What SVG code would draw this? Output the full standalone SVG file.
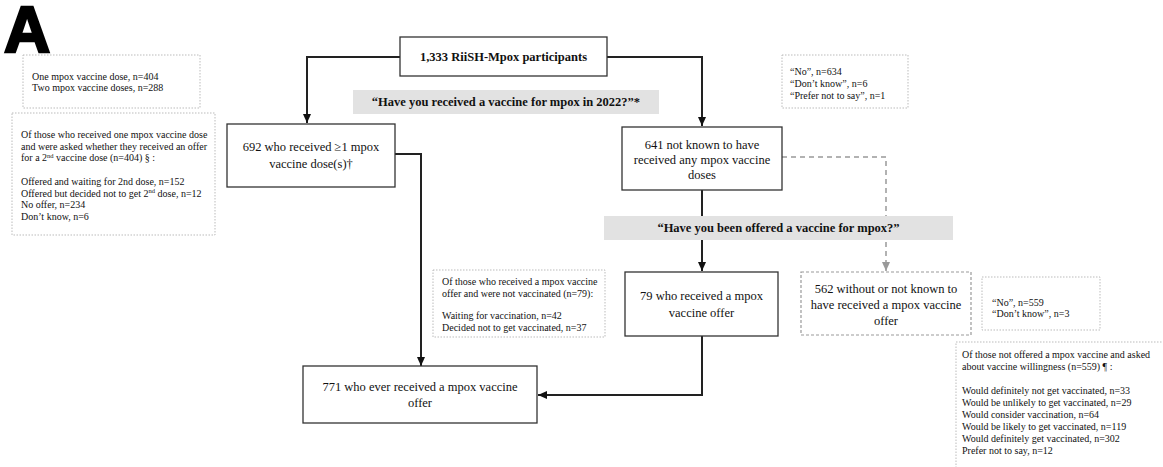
<svg xmlns="http://www.w3.org/2000/svg" width="1163" height="467" viewBox="0 0 1163 467">
<style>
.box{fill:#fff;stroke:#333;stroke-width:1.3}
.note{fill:#fff;stroke:#bbb;stroke-width:1;stroke-dasharray:1.5,1.5}
.grey{fill:#fff;stroke:#999;stroke-width:1.2;stroke-dasharray:3,2}
.banner{fill:#e2e2e2;stroke:none}
.t{font-family:"Liberation Serif","Times New Roman",serif;font-size:12.5px;fill:#111;text-anchor:middle}
.b{font-family:"Liberation Serif","Times New Roman",serif;font-size:12.5px;font-weight:bold;fill:#111;text-anchor:middle}
.n{font-family:"Liberation Serif","Times New Roman",serif;font-size:10px;fill:#111}
.c{fill:none;stroke:#222;stroke-width:2}
.cd{fill:none;stroke:#999;stroke-width:1.5;stroke-dasharray:5,4}
</style>
<defs>
<marker id="ah" markerUnits="userSpaceOnUse" markerWidth="9" markerHeight="8" refX="9" refY="4" orient="auto"><path d="M0,0 L9,4 L0,8 z" fill="#111"/></marker>
<marker id="ahg" markerUnits="userSpaceOnUse" markerWidth="9" markerHeight="8" refX="9" refY="4" orient="auto"><path d="M0,0 L9,4 L0,8 z" fill="#999"/></marker>
</defs>
<rect width="1163" height="467" fill="#fff"/>
<text x="4" y="52" font-family="Liberation Sans, Arial, sans-serif" font-size="64" font-weight="bold" stroke="#000" stroke-width="2.5" fill="#000">A</text>

<g id="connectors">
<path class="c" d="M400,57 H307 V123" marker-end="url(#ah)"/>
<path class="c" d="M607,57 H702 V126" marker-end="url(#ah)"/>
<path class="c" d="M395,154 H421 V366" marker-end="url(#ah)"/>
<path class="c" d="M702,190 V271" marker-end="url(#ah)"/>
<path class="cd" d="M782,157 H886 V271" marker-end="url(#ahg)"/>
<path class="c" d="M702,336 V395 H538" marker-end="url(#ah)"/>
</g>

<g id="note-doses">
<rect class="note" x="23" y="55" width="177" height="53"/>
<text class="n" x="32" y="80">One mpox vaccine dose,  n=404</text>
<text class="n" x="32" y="91">Two mpox vaccine doses, n=288</text>
</g>
<g id="note-second-dose">
<rect class="note" x="12" y="113" width="203" height="122"/>
<text class="n" x="21" y="138">Of those who received one mpox vaccine dose</text>
<text class="n" x="21" y="149.7">and were asked whether they received an offer</text>
<text class="n" x="21" y="161.4">for a 2<tspan font-size="6.5" dy="-3.5">nd</tspan><tspan dy="3.5"> vaccine dose (n=404) § :</tspan></text>
<text class="n" x="21" y="184.8">Offered and waiting for 2nd dose, n=152</text>
<text class="n" x="21" y="196.5">Offered but decided not to get 2<tspan font-size="6.5" dy="-3.5">nd</tspan><tspan dy="3.5"> dose, n=12</tspan></text>
<text class="n" x="21" y="208.2">No offer, n=234</text>
<text class="n" x="21" y="219.9">Don’t know, n=6</text>
</g>

<g id="participants">
<rect class="box" x="400" y="37" width="207" height="39"/>
<text class="b" x="503.5" y="61" font-size="13.5">1,333 RiiSH-Mpox participants</text>
</g>
<g id="q1">
<rect class="banner" x="353" y="90" width="306" height="24"/>
<text class="b" x="506" y="106">“Have you received a vaccine for mpox in 2022?”*</text>
</g>
<g id="received">
<rect class="box" x="227" y="124" width="168" height="63"/>
<text class="t" x="311" y="151">692 who received ≥1 mpox</text>
<text class="t" x="311" y="168">vaccine dose(s)†</text>
</g>
<g id="not-received">
<rect class="box" x="622" y="127" width="160" height="63"/>
<text class="t" x="702" y="149">641 not known to have</text>
<text class="t" x="702" y="164">received any mpox vaccine</text>
<text class="t" x="702" y="179">doses</text>
</g>
<g id="note-no">
<rect class="note" x="782" y="55" width="126" height="53"/>
<text class="n" x="790" y="74.5">“No”,  n=634</text>
<text class="n" x="790" y="86.5">“Don’t know”, n=6</text>
<text class="n" x="790" y="98.5">“Prefer not to say”, n=1</text>
</g>
<g id="q2">
<rect class="banner" x="604" y="216" width="349" height="24"/>
<text class="b" x="778.5" y="232">“Have you been offered a vaccine for mpox?”</text>
</g>
<g id="note-offer">
<rect class="note" x="433" y="270" width="172" height="67"/>
<text class="n" x="442" y="285">Of those who received a mpox vaccine</text>
<text class="n" x="442" y="296.5">offer and were not vaccinated (n=79):</text>
<text class="n" x="442" y="319">Waiting for vaccination, n=42</text>
<text class="n" x="442" y="330.5">Decided not to get vaccinated, n=37</text>
</g>
<g id="offered">
<rect class="box" x="625" y="272" width="153" height="64"/>
<text class="t" x="701.5" y="300">79 who received a mpox</text>
<text class="t" x="701.5" y="317">vaccine offer</text>
</g>
<g id="not-offered">
<rect class="grey" x="801" y="272" width="170" height="63"/>
<text class="t" x="886" y="293">562 without or not known to</text>
<text class="t" x="886" y="309">have received a mpox vaccine</text>
<text class="t" x="886" y="325">offer</text>
</g>
<g id="note-no2">
<rect class="note" x="982" y="277" width="118" height="53"/>
<text class="n" x="992" y="305.5">“No”,  n=559</text>
<text class="n" x="992" y="317">“Don’t know”, n=3</text>
</g>
<g id="note-willingness">
<rect class="note" x="956" y="342" width="220" height="140"/>
<text class="n" x="962" y="358">Of those not offered a mpox vaccine and asked</text>
<text class="n" x="962" y="370">about vaccine willingness (n=559) ¶ :</text>
<text class="n" x="962" y="394">Would definitely not get vaccinated, n=33</text>
<text class="n" x="962" y="406">Would be unlikely to get vaccinated, n=29</text>
<text class="n" x="962" y="418">Would consider vaccination, n=64</text>
<text class="n" x="962" y="430">Would be likely to get vaccinated, n=119</text>
<text class="n" x="962" y="442">Would definitely get vaccinated, n=302</text>
<text class="n" x="962" y="454">Prefer not to say, n=12</text>
</g>
<g id="ever-offered">
<rect class="box" x="303" y="366" width="234" height="57"/>
<text class="t" x="420" y="391">771 who ever received a mpox vaccine</text>
<text class="t" x="420" y="407">offer</text>
</g>
</svg>
